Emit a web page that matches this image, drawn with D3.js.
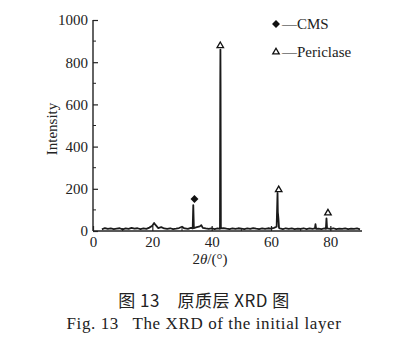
<!DOCTYPE html>
<html>
<head>
<meta charset="utf-8">
<script src="https://cdn.jsdelivr.net/npm/d3@7"></script>
<style>
  body { margin: 0; background: #fff; }
  svg text { font-family: "Liberation Serif", "DejaVu Serif", serif; fill: #222; }
</style>
</head>
<body>
<div id="chart"></div>
<script>
// XRD pattern of the initial layer
let twoTheta = [3, 4, 5, 6, 7, 8, 9, 10, 11, 12, 13, 14, 15, 16, 17, 18, 19, 20, 20.6, 21, 21.5, 22, 23, 24, 25, 26, 27, 28, 29, 30, 30.5, 31, 32, 33, 33.6, 33.8, 34.0, 35, 36, 36.5, 37, 38, 39, 40, 41, 42, 42.8, 42.9, 42.95, 43.0, 43.1, 44, 45, 46, 47, 48, 49, 50, 51, 52, 53, 54, 55, 56, 57, 58, 59, 60, 61, 61.9, 62.2, 62.3, 62.5, 62.7, 63, 64, 65, 66, 67, 68, 69, 70, 71, 72, 73, 74, 74.8, 75, 75.2, 76, 77, 78, 78.5, 78.7, 78.9, 80, 81, 82, 83, 84, 85, 86, 87, 88, 89, 90];
let intensity = [8, 14, 10, 12, 9, 11, 13, 8, 12, 10, 15, 11, 13, 9, 12, 10, 16, 25, 38, 30, 22, 14, 18, 12, 10, 13, 9, 11, 14, 20, 15, 12, 10, 15, 12, 123, 14, 18, 22, 28, 15, 12, 10, 13, 9, 12, 10, 700, 860, 700, 12, 14, 11, 9, 12, 10, 13, 11, 9, 12, 10, 14, 11, 9, 12, 10, 13, 11, 15, 20, 180, 90, 60, 15, 12, 9, 13, 10, 12, 9, 11, 10, 13, 9, 12, 10, 12, 32, 10, 11, 9, 12, 10, 60, 12, 10, 13, 9, 11, 10, 12, 9, 11, 10, 12, 8];

// phase markers
let cmsAngles = [34.2];
let cmsMarkY = [152];
let periclaseAngles = [42.9, 62.6, 79.2];
let periclaseMarkY = [878, 195, 85];

let xTicks = [0, 20, 40, 60, 80];
let yTicks = [0, 200, 400, 600, 800, 1000];
let legendItems = ["CMS", "Periclase"];

let width = 404, height = 351;
let svg = d3.select("#chart").append("svg")
    .attr("width", width)
    .attr("height", height);

let x = d3.scaleLinear().domain([0, 90]).range([93, 360]);
let y = d3.scaleLinear().domain([0, 1000]).range([231, 20]);

// axes (ticks point inward)
let xAxis = d3.axisBottom(x).tickValues(xTicks).tickFormat(d3.format("d"))
    .tickSizeInner(-5).tickSizeOuter(0).tickPadding(5);
let yAxis = d3.axisLeft(y).tickValues(yTicks).tickFormat(d3.format("d"))
    .tickSizeInner(-5).tickSizeOuter(0).tickPadding(5);

let gx = svg.append("g")
    .attr("class", "x-axis axis")
    .attr("transform", "translate(0," + y(0) + ")")
    .call(xAxis);
let gy = svg.append("g")
    .attr("class", "y-axis axis")
    .attr("transform", "translate(" + x(0) + ",0)")
    .call(yAxis);

// minor ticks
gx.selectAll(".minor")
    .data(d3.range(10, 90, 20))
    .enter().append("line")
    .attr("x1", d => x(d)).attr("x2", d => x(d))
    .attr("y1", 0).attr("y2", -3)
    .attr("stroke", "#222");
gy.selectAll(".minor")
    .data(d3.range(100, 1000, 200))
    .enter().append("line")
    .attr("y1", d => y(d)).attr("y2", d => y(d))
    .attr("x1", 0).attr("x2", 3)
    .attr("stroke", "#222");

svg.selectAll(".axis path").attr("d", null);
gx.append("line").attr("x1", x(0)).attr("x2", 362).attr("y1", 0).attr("y2", 0)
    .attr("stroke", "#222").attr("stroke-width", 1.4);
gy.append("line").attr("x1", 0).attr("x2", 0).attr("y1", y(0)).attr("y2", y(1000))
    .attr("stroke", "#222").attr("stroke-width", 1.4);
svg.selectAll(".axis .tick line").attr("stroke", "#222").attr("stroke-width", 1.2);
svg.selectAll(".axis text")
    .style("font-family", "Liberation Serif, serif")
    .style("font-size", "15px")
    .attr("fill", "#222");

// pattern
let line = d3.line()
    .x((d, i) => x(twoTheta[i]))
    .y(d => y(d));
svg.append("path")
    .datum(intensity)
    .attr("fill", "none")
    .attr("stroke", "#1a1a1a")
    .attr("stroke-width", 1.8)
    .attr("stroke-linejoin", "round")
    .attr("d", line);

// markers
let diamond = d3.symbol().type(d3.symbolDiamond2).size(40);
let triangle = d3.symbol().type(d3.symbolTriangle2).size(30);

svg.selectAll(".cms")
    .data(cmsAngles)
    .enter().append("path")
    .attr("class", "cms")
    .attr("transform", (d, i) => "translate(" + x(d) + "," + y(cmsMarkY[i]) + ")")
    .attr("d", diamond)
    .attr("fill", "#111");

svg.selectAll(".peri")
    .data(periclaseAngles)
    .enter().append("path")
    .attr("class", "peri")
    .attr("transform", (d, i) => "translate(" + x(d) + "," + y(periclaseMarkY[i]) + ")")
    .attr("d", triangle)
    .attr("fill", "#fff")
    .attr("stroke", "#111")
    .attr("stroke-width", 1.3);

// legend
let legend = svg.append("g").attr("transform", "translate(276,24)");
legend.append("path").attr("d", diamond).attr("fill", "#111");
legend.append("path").attr("d", triangle)
    .attr("transform", "translate(0,28)")
    .attr("fill", "#fff").attr("stroke", "#111").attr("stroke-width", 1.3);
legend.selectAll("text")
    .data(legendItems)
    .enter().append("text")
    .attr("x", 6)
    .attr("y", (d, i) => 5 + i * 28)
    .style("font-size", "15px")
    .text(d => "\u2014" + d);

// axis titles
svg.append("text")
    .attr("transform", "translate(57,129) rotate(-90)")
    .attr("text-anchor", "middle")
    .style("font-size", "15px")
    .text("Intensity");

let xl = svg.append("text")
    .attr("x", 210)
    .attr("y", 264)
    .attr("text-anchor", "middle")
    .style("font-size", "15px");
xl.append("tspan").text("2");
xl.append("tspan").style("font-style", "italic").text("\u03b8");
xl.append("tspan").text("/(\u00b0)");

// captions
svg.append("text")
    .attr("x", 204)
    .attr("y", 307)
    .attr("text-anchor", "middle")
    .style("font-family", "Noto Sans CJK SC, sans-serif")
    .style("font-size", "17px")
    .style("letter-spacing", "0.5px")
    .text("图 13\u3000原质层 XRD 图");

svg.append("text")
    .attr("x", 204)
    .attr("y", 329)
    .attr("text-anchor", "middle")
    .style("font-size", "17px")
    .style("letter-spacing", "0.6px")
    .text("Fig. 13\u2002 The XRD of the initial layer");
</script>
</body>
</html>
